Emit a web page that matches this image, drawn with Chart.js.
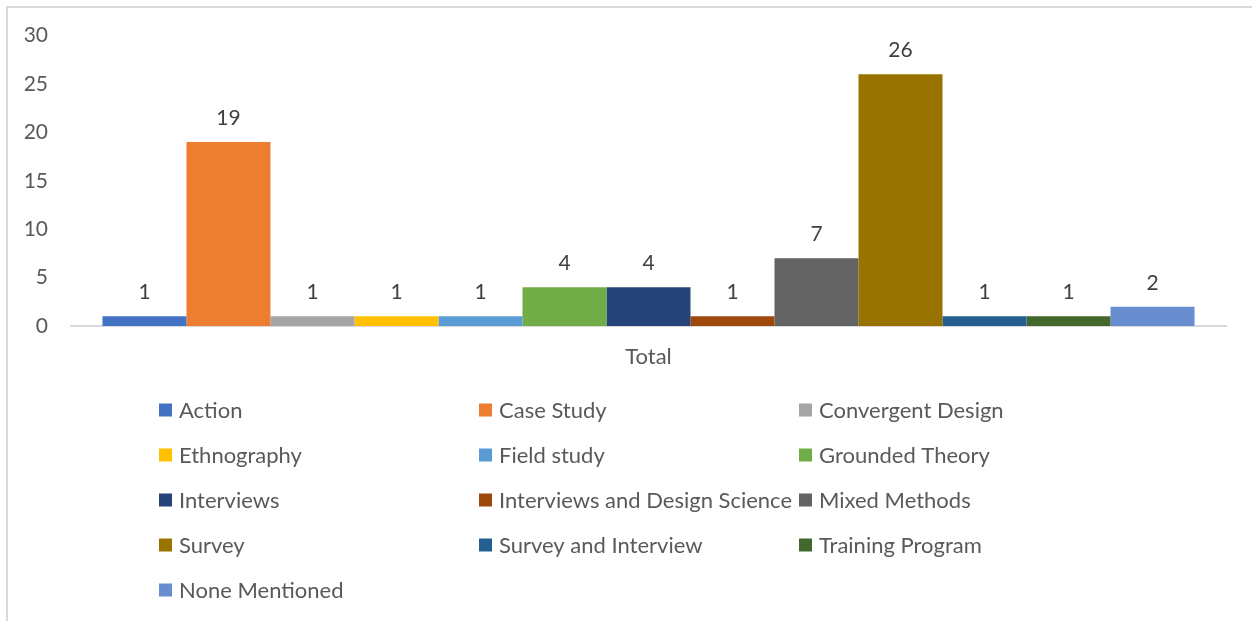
<!DOCTYPE html>
<html>
<head>
<meta charset="utf-8">
<script src="https://cdn.jsdelivr.net/npm/chart.js@4"></script>
<style>
  html, body { margin: 0; padding: 0; background: #fff; }
  #wrap { position: relative; width: 1252px; height: 621px; }
</style>
</head>
<body>
<div id="wrap"><canvas id="chart"></canvas></div>
<script>
// ── Data ─────────────────────────────────────────────────
const categories = ["Total"];
const seriesNames = [
  "Action", "Case Study", "Convergent Design",
  "Ethnography", "Field study", "Grounded Theory",
  "Interviews", "Interviews and Design Science", "Mixed Methods",
  "Survey", "Survey and Interview", "Training Program",
  "None Mentioned",
];
const seriesValues = [1, 19, 1, 1, 1, 4, 4, 1, 7, 26, 1, 1, 2];
const seriesColors = [
  "#4472C4", "#ED7D31", "#A5A5A5",
  "#FFC000", "#5B9BD5", "#70AD47",
  "#264478", "#9E480E", "#636363",
  "#997300", "#255E91", "#43682B",
  "#698ED0",
];
const yTicks = [0, 5, 10, 15, 20, 25, 30];

// ── Style ────────────────────────────────────────────────
const FONT = "Lato, 'Open Sans', sans-serif";
const TEXT = "#595959";
const LABEL = "#404040";
const LINE = "#D9D9D9";

Chart.defaults.font.family = FONT;
Chart.defaults.font.size = 21;
Chart.defaults.color = TEXT;

// ── Plugins ──────────────────────────────────────────────
// outer frame (only top and left edges show in the picture)
const framePlugin = {
  id: "frame",
  beforeDraw(chart) {
    const { ctx, width, height } = chart;
    ctx.save();
    ctx.strokeStyle = LINE;
    ctx.lineWidth = 2;
    ctx.beginPath();
    ctx.moveTo(7, height);
    ctx.lineTo(7, 7);
    ctx.lineTo(width, 7);
    ctx.stroke();
    ctx.restore();
  },
};

// value labels above the bars
const valueLabels = {
  id: "valueLabels",
  afterDatasetsDraw(chart) {
    const { ctx } = chart;
    ctx.save();
    ctx.font = `21px ${FONT}`;
    ctx.fillStyle = LABEL;
    ctx.textAlign = "center";
    ctx.textBaseline = "alphabetic";
    chart.data.datasets.forEach((ds, i) => {
      const el = chart.getDatasetMeta(i).data[0];
      if (!el) return;
      ctx.fillText(String(ds.data[0]), el.x, el.y - 17);
    });
    ctx.restore();
  },
};

// legend in 3 columns under the axis
const gridLegend = {
  id: "gridLegend",
  afterDraw(chart) {
    const { ctx } = chart;
    const colX = [159, 479, 799];
    const rowY0 = 410, rowGap = 45;
    ctx.save();
    ctx.font = `22px ${FONT}`;
    ctx.textBaseline = "middle";
    ctx.textAlign = "left";
    chart.data.datasets.forEach((ds, i) => {
      const x = colX[i % 3];
      const y = rowY0 + Math.floor(i / 3) * rowGap;
      ctx.fillStyle = ds.backgroundColor;
      ctx.fillRect(x, y - 6.5, 13, 13);
      ctx.fillStyle = TEXT;
      ctx.fillText(ds.label, x + 20, y + 1);
    });
    ctx.restore();
  },
};

// ── Chart ────────────────────────────────────────────────
const datasets = seriesNames.map((name, i) => ({
  label: name,
  data: [seriesValues[i]],
  backgroundColor: seriesColors[i],
  borderWidth: 0,
  barPercentage: 1,
  categoryPercentage: 0.9455,
}));

new Chart(document.getElementById("chart"), {
  type: "bar",
  data: { labels: categories, datasets },
  options: {
    responsive: true,
    maintainAspectRatio: false,
    animation: false,
    layout: { padding: { left: 0, top: 35, right: 26, bottom: 245 } },
    plugins: {
      legend: { display: false },
      tooltip: { enabled: false },
    },
    scales: {
      x: {
        grid: { display: false, drawTicks: false },
        border: { display: true, color: LINE, width: 2 },
        ticks: { color: TEXT, padding: 18, font: { size: 22 } },
        afterFit: (s) => { s.height = 50; },
      },
      y: {
        min: 0,
        max: 30,
        afterBuildTicks: (s) => { s.ticks = yTicks.map((v) => ({ value: v })); },
        grid: { display: false, drawTicks: false },
        border: { display: false },
        ticks: { color: TEXT, padding: 23, font: { size: 21 } },
        afterFit: (s) => { s.width = 71; },
      },
    },
  },
  plugins: [framePlugin, valueLabels, gridLegend],
});
</script>
</body>
</html>
